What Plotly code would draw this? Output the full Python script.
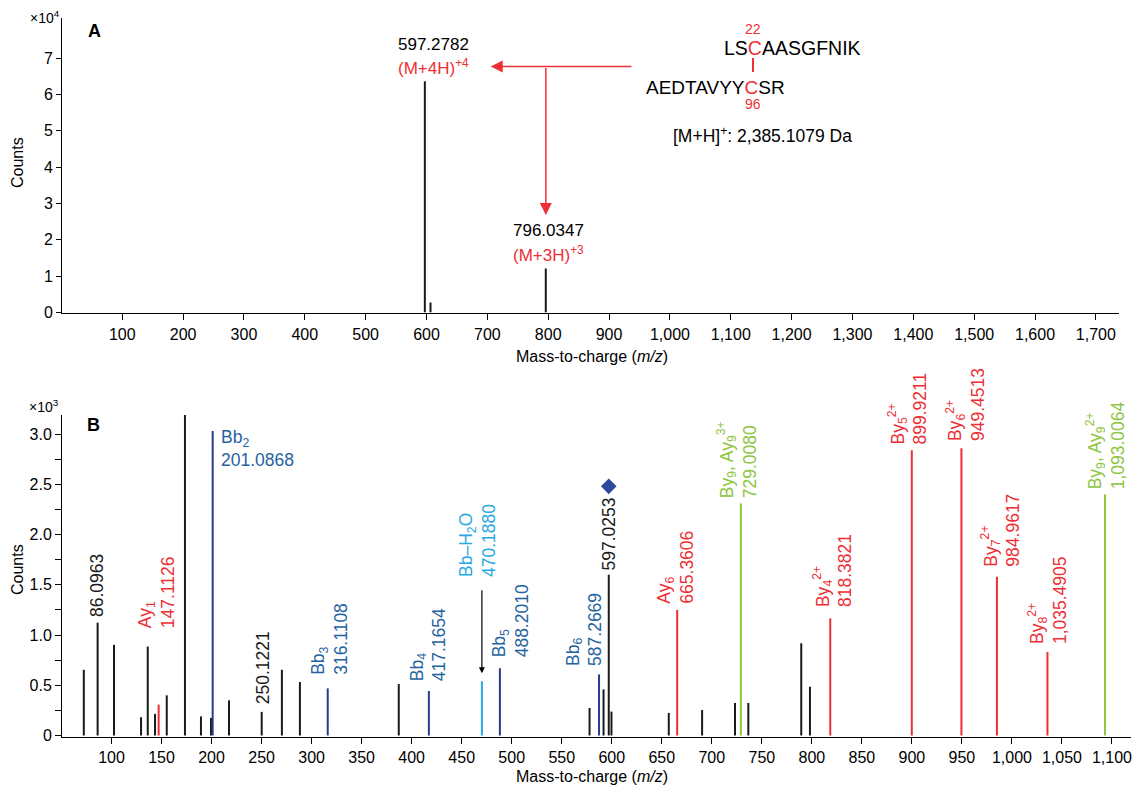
import plotly.graph_objects as go

# ---------------- data ----------------
# Panel A (counts in units of 1e4)
a_mz = [597.28, 606.6, 796.03]
a_counts = [6.37, 0.27, 1.21]

# Panel B (counts in units of 1e3)
b_black_mz = [72.3, 86.1, 102.5, 129.5, 136.2, 143.5, 155.2, 173.4, 189.4, 199.4,
              217.4, 250.1, 270.3, 288.3, 387.1, 577.8, 591.8, 597.0, 599.7, 657.0,
              690.3, 723.2, 736.5, 789.4, 798.1]
b_black_counts = [0.654, 1.123, 0.902, 0.182, 0.885, 0.215, 0.400, 3.19, 0.19, 0.175,
                  0.35, 0.235, 0.654, 0.532, 0.512, 0.274, 0.459, 1.60, 0.238, 0.225,
                  0.254, 0.324, 0.324, 0.918, 0.486]
b_red_mz = [147.1, 665.4, 818.4, 899.9, 949.5, 985.0, 1035.5]
b_red_counts = [0.307, 1.25, 1.166, 2.84, 2.86, 1.58, 0.83]
b_navy_mz = [201.1, 316.1, 417.2, 488.2, 587.3]
b_navy_counts = [3.03, 0.469, 0.443, 0.67, 0.608]
b_cyan_mz = [470.2]
b_cyan_counts = [0.54]
b_green_mz = [729.0, 1093.0]
b_green_counts = [2.31, 2.40]
precursor_mz = [597.0]
precursor_counts = [2.48]

a_xticks = list(range(100, 1800, 100))
a_yticks = [0, 1, 2, 3, 4, 5, 6, 7]
b_yticks = [0, 0.5, 1.0, 1.5, 2.0, 2.5, 3.0]
b_yticktext = ["0", "0.5", "1.0", "1.5", "2.0", "2.5", "3.0"]

# ---------------- styling ----------------
FONT = "Liberation Sans, Arial, sans-serif"
RED = "#ED2F35"
NAVY = "#2B3A8C"
BLUE_TXT = "#1F64A0"
CYAN = "#27AAE1"
GREEN = "#8DC63F"
BLACK = "#1a1a1a"

W, H = 1132, 787
ML, MR, MT, MB = 62, 1, 18, 50
PW, PH = W - ML - MR, H - MT - MB


def fx(px):
    return (px - ML) / PW


def fy(py):
    return (H - MB - py) / PH


def sticks(mz, counts):
    xs, ys = [], []
    for m, c in zip(mz, counts):
        xs += [m, m, None]
        ys += [0, c, None]
    return xs, ys


fig = go.Figure()

# Panel A sticks
x, y = sticks(a_mz, a_counts)
fig.add_trace(go.Scatter(x=x, y=y, mode="lines", line=dict(color=BLACK, width=2),
                         xaxis="x", yaxis="y", hoverinfo="skip"))

# Panel B sticks
for mz, cnt, col in [(b_black_mz, b_black_counts, BLACK),
                     (b_red_mz, b_red_counts, RED),
                     (b_navy_mz, b_navy_counts, NAVY),
                     (b_cyan_mz, b_cyan_counts, CYAN),
                     (b_green_mz, b_green_counts, GREEN)]:
    x, y = sticks(mz, cnt)
    fig.add_trace(go.Scatter(x=x, y=y, mode="lines", line=dict(color=col, width=2),
                             xaxis="x2", yaxis="y2", hoverinfo="skip"))

fig.add_trace(go.Scatter(x=precursor_mz, y=precursor_counts, mode="markers",
                         marker=dict(symbol="diamond", size=12, color="#2E4A9E"),
                         xaxis="x2", yaxis="y2", hoverinfo="skip"))

axis_common = dict(showline=True, linecolor="black", linewidth=1, ticks="outside",
                   tickcolor="black", showgrid=False, zeroline=False, automargin=False,
                   ticklabeloverflow="allow",
                   tickfont=dict(family=FONT, size=16, color="black"))

a_top = fy(18)
a_bot = fy(313.3)
b_top = fy(415)

fig.update_layout(
    width=W, height=H, margin=dict(l=ML, r=MR, t=MT, b=MB),
    paper_bgcolor="white", plot_bgcolor="white", showlegend=False,
    font=dict(family=FONT, color="black"),
    xaxis=dict(domain=[0, fx(1119)], range=[1, 1738], tickvals=a_xticks,
               tickformat=",d", ticklen=6, anchor="y", **axis_common),
    yaxis=dict(domain=[a_bot, a_top], range=[-0.028, 8.11], tickvals=a_yticks,
               ticklen=5, anchor="x", **axis_common),
    xaxis2=dict(domain=[0, 1], range=[50.5, 1119], dtick=50, tick0=0,
                tickformat=",d", ticklen=6, anchor="y2", **axis_common),
    yaxis2=dict(domain=[0, b_top], range=[-0.015, 3.19], tickvals=b_yticks,
                ticktext=b_yticktext, ticklen=6, anchor="x2",
                minor=dict(dtick=0.25, ticks="outside", ticklen=6, tickcolor="black"),
                **axis_common),
)

ann = []


def paper_text(text, px, py, size=16, color="black", xanchor="center",
               yanchor="middle", angle=0, bold=False):
    if bold:
        text = "<b>" + text + "</b>"
    ann.append(dict(text=text, x=fx(px), y=fy(py), xref="paper", yref="paper",
                    showarrow=False, xanchor=xanchor, yanchor=yanchor,
                    textangle=angle, borderpad=0,
                    font=dict(family=FONT, size=size, color=color)))


# generic texts
paper_text("×10<sup>4</sup>", 45, 17, size=14)
paper_text("×10<sup>3</sup>", 44, 406, size=14)
paper_text("A", 94, 31, size=18, bold=True)
paper_text("B", 93, 425, size=18, bold=True)
paper_text("Counts", 17, 163, size=16, angle=-90)
paper_text("Counts", 17, 570, size=16, angle=-90)
paper_text("Mass-to-charge (<i>m/z</i>)", 592, 356, size=16)
paper_text("Mass-to-charge (<i>m/z</i>)", 592, 776, size=16)

# Panel A labels
def a_text(text, xv, yv, color="black", size=17):
    ann.append(dict(text=text, x=xv, y=yv, xref="x", yref="y", showarrow=False,
                    xanchor="center", yanchor="middle", borderpad=0,
                    font=dict(family=FONT, size=size, color=color)))


a_text("597.2782", 610.8, 7.39)
a_text("(M+4H)<sup>+4</sup>", 611.4, 6.76, color=RED)
a_text("796.0347", 801, 2.25)
a_text("(M+3H)<sup>+3</sup>", 801, 1.61, color=RED)

# peptide block
paper_text("LS<span style='color:%s'>C</span>AASGFNIK" % RED, 723, 48, size=19.5, xanchor="left")
paper_text("AEDTAVYY<span style='color:%s'>C</span>SR" % RED, 645, 87, size=19, xanchor="left")
paper_text("22", 753, 29, size=14, color=RED)
paper_text("96", 753, 104, size=14, color=RED)
paper_text("[M+H]<sup>+</sup>: 2,385.1079 Da", 672, 135, size=17.5, xanchor="left")

# red arrows in panel A
ann.append(dict(x=705.6, y=6.77, ax=939.2, ay=6.77, xref="x", yref="y", axref="x", ayref="y",
                text="", showarrow=True, arrowhead=2, arrowsize=1.6, arrowwidth=1.5,
                arrowcolor=RED))
ann.append(dict(x=796.1, y=2.68, ax=796.1, ay=6.77, xref="x", yref="y", axref="x", ayref="y",
                text="", showarrow=True, arrowhead=2, arrowsize=1.6, arrowwidth=1.5,
                arrowcolor=RED))

# Panel B labels (rotated)
b_labels = [
    ("86.0963", 86.1, 1.17, BLACK),
    ("Ay<sub>1</sub><br>147.1126", 144.6, 1.06, RED),
    ("250.1221", 250.8, 0.30, BLACK),
    ("Bb<sub>3</sub><br>316.1108", 318.5, 0.595, BLUE_TXT),
    ("Bb<sub>4</sub><br>417.1654", 416.8, 0.53, BLUE_TXT),
    ("Bb–H<sub>2</sub>O<br>470.1880", 466.0, 1.57, CYAN),
    ("Bb<sub>5</sub><br>488.2010", 499.0, 0.77, BLUE_TXT),
    ("Bb<sub>6</sub><br>587.2669", 572.5, 0.68, BLUE_TXT),
    ("597.0253", 597.0, 1.635, BLACK),
    ("Ay<sub>6</sub><br>665.3606", 664.0, 1.305, RED),
    ("By<sub>9</sub>, Ay<sub>9</sub><sup>3+</sup><br>729.0080", 725.5, 2.35, GREEN),
    ("By<sub>4</sub><sup>2+</sup><br>818.3821", 820.8, 1.27, RED),
    ("By<sub>5</sub><sup>2+</sup><br>899.9211", 895.5, 2.89, RED),
    ("By<sub>6</sub><sup>2+</sup><br>949.4513", 953.5, 2.92, RED),
    ("By<sub>7</sub><sup>2+</sup><br>984.9617", 989.0, 1.675, RED),
    ("By<sub>8</sub><sup>2+</sup><br>1,035.4905", 1035.0, 0.90, RED),
    ("By<sub>9</sub>, Ay<sub>9</sub><sup>2+</sup><br>1,093.0064", 1093.0, 2.44, GREEN),
]
for text, xv, yv, col in b_labels:
    ann.append(dict(text=text, x=xv, y=yv, xref="x2", yref="y2", showarrow=False,
                    xanchor="center", yanchor="bottom", textangle=-90, align="left",
                    borderpad=0, font=dict(family=FONT, size=17.5, color=col)))

# Bb2 horizontal label
ann.append(dict(text="Bb<sub>2</sub><br>201.0868", x=208.5, y=3.08, xref="x2", yref="y2",
                showarrow=False, xanchor="left", yanchor="top", align="left", borderpad=0,
                font=dict(family=FONT, size=17.5, color=BLUE_TXT)))

# arrow to the water-loss peak
ann.append(dict(x=470.2, y=0.62, ax=470.2, ay=1.46, xref="x2", yref="y2", axref="x2",
                ayref="y2", text="", showarrow=True, arrowhead=2, arrowsize=1,
                arrowwidth=1.2, arrowcolor="black"))

fig.update_layout(annotations=ann)

# red bond between the two cysteines
fig.add_shape(type="line", xref="paper", yref="paper", x0=fx(753), x1=fx(753),
              y0=fy(58), y1=fy(72), line=dict(color=RED, width=2))

fig.write_html("out.html", config={"displayModeBar": False},
               post_script="document.body.style.margin='0';document.body.style.overflow='hidden';")
